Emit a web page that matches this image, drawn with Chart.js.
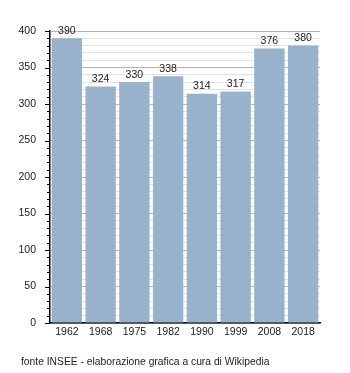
<!DOCTYPE html>
<html><head><meta charset="utf-8">
<script src="https://cdn.jsdelivr.net/npm/chart.js@4/dist/chart.umd.min.js"></script>
<style>html,body{margin:0;padding:0;background:#fff}#w{width:350px;height:373px;position:relative}</style>
</head><body><div id="w"><canvas id="c"></canvas></div>
<script>
const categories = ["1962","1968","1975","1982","1990","1999","2008","2018"];
const population = [390,324,330,338,314,317,376,380];
const caption = "fonte INSEE - elaborazione grafica a cura di Wikipedia";
const FONT = "'Liberation Sans', Arial, sans-serif";

const valueLabels = {
  id:'valueLabels',
  afterDatasetsDraw(chart){
    const ctx = chart.ctx;
    const meta = chart.getDatasetMeta(0);
    ctx.save();
    ctx.font = "10.5px " + FONT;
    ctx.fillStyle = "#222";
    ctx.textAlign = "center";
    ctx.textBaseline = "bottom";
    meta.data.forEach((bar,i)=>{
      ctx.fillText(String(population[i]), bar.x, bar.y - 2);
    });
    ctx.restore();
  }
};
const tickMarks = {
  id:'tickMarks',
  afterDraw(chart){
    const ctx = chart.ctx, y = chart.scales.y, left = chart.chartArea.left;
    ctx.save();
    ctx.strokeStyle = '#000';
    ctx.lineWidth = 1;
    y.ticks.forEach(t=>{
      const py = Math.round(y.getPixelForValue(t.value)) + 0.5;
      const len = (t.value % 50 === 0) ? 5 : 3;
      ctx.beginPath();
      ctx.moveTo(left - len, py);
      ctx.lineTo(left, py);
      ctx.stroke();
    });
    ctx.restore();
  }
};
const captionPlugin = {
  id:'captionPlugin',
  afterDraw(chart){
    const ctx = chart.ctx;
    ctx.save();
    ctx.font = "10.3px " + FONT;
    ctx.fillStyle = "#222";
    ctx.textAlign = "left";
    ctx.textBaseline = "middle";
    ctx.fillText(caption, 21, 362);
    ctx.restore();
  }
};

new Chart(document.getElementById('c'), {
  type:'bar',
  data:{labels:categories, datasets:[{data:population, backgroundColor:'#98b2cb', borderWidth:0, barPercentage:0.9, categoryPercentage:1}]},
  options:{
    responsive:true, maintainAspectRatio:false, animation:false,
    layout:{padding:{left:0,right:30,top:31,bottom:0}},
    plugins:{legend:{display:false}, tooltip:{enabled:false}},
    scales:{
      x:{
        grid:{display:false, drawTicks:false},
        border:{color:'#000', width:1.5},
        ticks:{color:'#222', font:{family:FONT,size:10.5}, padding:3, maxRotation:0},
        afterFit(s){ s.height = 50; }
      },
      y:{
        min:0, max:400,
        grid:{
          color:(c)=> (c.tick && c.tick.value % 50 === 0) ? '#b4b4b4' : '#e2e2e2',
          drawTicks:false
        },
        border:{color:'#000', width:1.5},
        ticks:{stepSize:10, autoSkip:false, color:'#222', font:{family:FONT,size:10.5}, padding:14,
          callback:(v)=> (v % 50 === 0) ? String(v) : ''},
        afterFit(s){ s.width = 50; }
      }
    }
  },
  plugins:[valueLabels, tickMarks, captionPlugin]
});
</script>
</body></html>
